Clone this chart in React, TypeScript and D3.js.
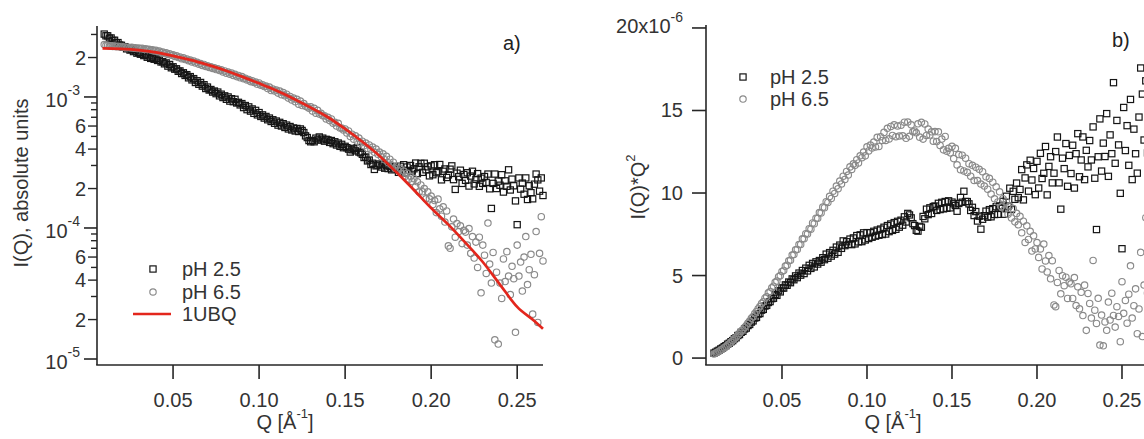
import React from 'react';
import * as d3 from 'd3';

// Q grid of the measured curves (Å^-1): first value and spacing
const qStart = 0.010;
const qStep = 0.001;

// I(Q) in units of 1e-5 (absolute units), one value per Q step, pH 2.5
const ph25 = [
  302, 293, 293, 281, 282, 270, 271, 259, 260, 249,
  248, 240, 242, 233, 237, 228, 231, 222, 225, 216,
  219, 212, 213, 207, 210, 201, 206, 197, 201, 194,
  197, 190, 191, 185, 186, 179, 182, 172, 177, 167,
  170, 163, 164, 157, 158, 151, 153, 146, 148, 140,
  143, 135, 138, 129, 133, 125, 129, 121, 124, 116,
  119, 113, 114, 109, 111, 106, 109, 102, 105, 99,
  102, 96, 100, 93, 97, 92, 96, 90, 91, 87,
  89, 83, 86, 80, 84, 78, 81, 75, 79, 73,
  76, 71, 73, 69, 71, 67, 69, 65, 67, 63,
  65.5, 61, 64, 60, 62.5, 58.5, 61, 57, 59.5, 56,
  58, 55, 57.5, 54.5, 57, 55.5, 53.5, 50.5, 49, 46.5,
  45.5, 46.5, 45.5, 48.5, 47, 49.5, 47, 48.5, 46, 47.5,
  47, 45, 46.5, 44, 45.5, 43, 44.5, 42, 43.5, 41,
  42, 41, 40, 38, 39.5, 40.5, 38.8, 41, 38, 37.5,
  36.5, 34.5, 34.8, 32.5, 33, 30.5, 31.2, 28, 29.8, 30.2,
  30.8, 29.2, 30.4, 28.6, 29.9, 28.4, 29.6, 27.8, 29.1, 28.3,
  29.3, 26.6, 29.6, 27.5, 30.4, 26.3, 29.2, 27.5, 30.0, 27.2,
  28.3, 31.3, 26.0, 29.3, 31.1, 26.6, 31.2, 27.8, 29.3, 25.0,
  29.8, 25.5, 30.4, 26.4, 26.9, 30.5, 23.3, 27.1, 28.2, 24.3,
  25.4, 28.1, 29.8, 23.4, 19.7, 26.2, 24.6, 27.6, 21.9, 25.6,
  23.1, 26.4, 20.9, 24.9, 27.1, 21.7, 23.5, 26.0, 20.8, 24.0,
  21.9, 24.7, 22.3, 25.8, 19.9, 14.1, 21.9, 25.8, 20.0, 22.8,
  21.2, 25.5, 18.8, 22.9, 20.8, 27.8, 19.5, 23.6, 21.0, 16.1,
  10.6, 24.1, 19.8, 22.0, 18.1, 24.1, 16.5, 21.0, 18.6, 16.7,
  21.6, 25.8, 23.3, 19.1, 24.1, 17.7,
];

// I(Q) in units of 1e-5, pH 6.5
const ph65 = [
  251, 248, 248, 245, 246, 243, 245, 242, 244, 241,
  243, 240, 241, 238, 240, 237, 239, 236, 237, 234,
  236, 233, 235, 231, 233, 230, 231, 228, 229, 224,
  227, 221, 224, 218, 220, 215, 217, 211, 214, 208,
  210, 204, 206, 200, 202, 196, 199, 193, 195, 189,
  191, 185, 188, 182, 184, 178, 180, 174, 177, 171,
  173, 168, 170, 165, 167, 162, 164, 159, 161, 155,
  158, 152, 155, 149, 152, 146, 149, 143, 146, 140,
  143, 138, 139, 135, 136, 131, 133, 129, 130, 125,
  128, 123, 124, 120, 121, 116, 119, 112, 115, 111,
  113, 107, 111, 104, 108, 102, 105, 98, 101, 95,
  98, 92, 96, 88, 93, 86, 89, 85, 84, 82,
  84, 78, 82, 75, 79, 74, 75, 72, 72, 68,
  70, 66, 68, 63, 64, 60, 63, 58, 58, 56,
  57, 53, 55, 50, 52, 47.5, 50.5, 46, 48.5, 44.5,
  46, 42.5, 44.5, 40.5, 43, 39.5, 41.5, 37.8, 40, 36.5,
  38, 35, 36.8, 33.2, 35.2, 31.5, 33.5, 30.2, 31.8, 28.6,
  29.8, 27.5, 28.6, 26, 27.2, 24.8, 26.2, 23.6, 24.8, 22.6,
  23.8, 20.8, 22.5, 18.8, 21.3, 18.9, 20.0, 16.7, 18.9, 16.7,
  17.5, 15.1, 16.2, 13.1, 16.6, 14.0, 12.3, 14.5, 11.1, 13.5,
  7.3, 7.0, 10.2, 11.7, 8.5, 10.8, 9.4, 10.4, 7.6, 9.6,
  9.3, 7.4, 9.9, 6.4, 8.6, 5.9, 7.8, 5.0, 8.5, 3.2,
  7.4, 6.2, 4.5, 10.9, 5.3, 3.8, 6.5, 1.4, 4.6, 1.3,
  3.8, 2.9, 5.8, 3.9, 6.6, 4.3, 3.1, 5.1, 4.1, 1.6,
  7.4, 4.3, 5.5, 3.3, 6.0, 8.6, 3.7, 4.8, 6.3, 2.2,
  4.4, 9.4, 1.9, 6.4, 12.2, 5.6,
];

// 1UBQ model curve: Q and I(Q) in units of 1e-5
const ubqQ = [0.009, 0.02, 0.03, 0.04, 0.05, 0.06, 0.07, 0.08, 0.09, 0.10, 0.11, 0.12, 0.13, 0.14,
  0.15, 0.16, 0.17, 0.18, 0.19, 0.20, 0.21, 0.22, 0.23, 0.24, 0.25, 0.26, 0.265];
const ubqI = [235, 233, 228, 219, 206, 192, 176, 160, 143, 127, 112, 97, 83, 70,
  57, 45.5, 35.5, 26.5, 19.5, 14.2, 10.6, 7.7, 5.5, 3.7, 2.5, 1.95, 1.7];

const xTicks = [0.05, 0.10, 0.15, 0.20, 0.25];
const xTickLabels = ['0.05', '0.10', '0.15', '0.20', '0.25'];
const logDecades = [1e-5, 1e-4, 1e-3];
const logDecadeExp = ['-5', '-4', '-3'];
const logMinorLabeled = [2, 4, 6];
const kratkyTicks = [0, 5, 10, 15, 20];

const FONT = '"Liberation Sans", Arial, Helvetica, sans-serif';
const AX = '#262626';
const SQ = '#151515';
const CI = '#8a8a8a';
const RED = '#e3261c';

type Pt = { q: number; i: number };

const toPts = (arr: number[]): Pt[] => arr.map((v, k) => ({ q: qStart + k * qStep, i: v * 1e-5 }));

export default function App() {
  const d25 = toPts(ph25);
  const d65 = toPts(ph65);
  const ubq = ubqQ.map((q, k) => ({ q, i: ubqI[k] * 1e-5 }));

  // left panel (log)
  const xL = d3.scaleLinear().domain([0.0058, 0.265]).range([97, 543]);
  const yL = d3.scaleLog().domain([9.0e-6, 3.42e-3]).range([365, 27]);
  // right panel (Kratky)
  const xR = d3.scaleLinear().domain([0.0053, 0.265]).range([706, 706 + 0.2597 * 1700]);
  const yR = d3.scaleLinear().domain([-0.42, 20.18]).range([365, 25]);

  const ubqLine = d3.line<Pt>().x(d => xL(d.q)).y(d => yL(d.i)).curve(d3.curveMonotoneX)(ubq) || '';

  const minorLog: { v: number; m: number }[] = [];
  logDecades.forEach(dec => {
    for (let m = 2; m <= 9; m++) {
      const v = m * dec;
      if (v <= 3.42e-3) minorLog.push({ v, m });
    }
  });

  const kr = (d: Pt) => d.i * d.q * d.q * 1e6;

  const fs = 20;

  const square = (x: number, y: number, key: string | number) => (
    <rect key={key} x={x - 3.1} y={y - 3.1} width={6.2} height={6.2} fill="none" stroke={SQ} strokeWidth={1.2} />
  );
  const circle = (x: number, y: number, key: string | number) => (
    <circle key={key} cx={x} cy={y} r={3.2} fill="none" stroke={CI} strokeWidth={1.15} />
  );

  return (
    <svg width={1144} height={439} style={{ position: 'absolute', left: 0, top: 0, background: '#fff' }}
      fontFamily={FONT}>
      <rect x={0} y={0} width={1144} height={439} fill="#fff" />
      {/* ---------- Left panel ---------- */}
      <g>
        {d25.map((d, k) => square(xL(d.q), yL(d.i), 'a' + k))}
        {d65.map((d, k) => circle(xL(d.q), yL(d.i), 'b' + k))}
        <path d={ubqLine} fill="none" stroke={RED} strokeWidth={2.7} />
        {/* axes */}
        <line x1={97} x2={97} y1={26} y2={365} stroke={AX} strokeWidth={1.6} />
        <line x1={96.2} x2={543} y1={365} y2={365} stroke={AX} strokeWidth={1.6} />
        {xTicks.map((t, k) => (
          <g key={'xl' + k}>
            <line x1={xL(t)} x2={xL(t)} y1={365} y2={379} stroke={AX} strokeWidth={1.6} />
            <text x={xL(t)} y={407} textAnchor="middle" fontSize={fs} fill="#333">{xTickLabels[k]}</text>
          </g>
        ))}
        {logDecades.map((t, k) => (
          <g key={'yd' + k}>
            <line x1={84} x2={97} y1={yL(t)} y2={yL(t)} stroke={AX} strokeWidth={1.6} />
            <text x={80} y={yL(t) + 10} textAnchor="end" fontSize={fs} fill="#333">
              <tspan>10</tspan>
              <tspan fontSize={14} dy={-12}>{logDecadeExp[k]}</tspan>
            </text>
          </g>
        ))}
        {minorLog.map((t, k) => {
          const lab = logMinorLabeled.includes(t.m);
          return (
            <g key={'ym' + k}>
              <line x1={lab ? 88 : 91} x2={97} y1={yL(t.v)} y2={yL(t.v)} stroke={AX} strokeWidth={1.4} />
              {lab && (
                <text x={86} y={yL(t.v) + 7} textAnchor="end" fontSize={fs} fill="#333">{t.m}</text>
              )}
            </g>
          );
        })}
        <text transform="translate(28,183) rotate(-90)" textAnchor="middle" fontSize={fs} fill="#333">
          I(Q), absolute units
        </text>
        <text x={285} y={429} textAnchor="middle" fontSize={fs} fill="#333">
          <tspan>Q [Å</tspan>
          <tspan fontSize={13} dy={-11}>-1</tspan>
          <tspan dy={11}>]</tspan>
        </text>
        <text x={503} y={50} fontSize={fs} fill="#222">a)</text>
        {/* legend */}
        {square(153, 269, 'lg1')}
        <text x={182} y={276} fontSize={fs} fill="#333">pH 2.5</text>
        {circle(153, 292, 'lg2')}
        <text x={182} y={299} fontSize={fs} fill="#333">pH 6.5</text>
        <line x1={133} x2={171} y1={314} y2={314} stroke={RED} strokeWidth={2.7} />
        <text x={182} y={321} fontSize={fs} fill="#333">1UBQ</text>
      </g>

      {/* ---------- Right panel ---------- */}
      <g>
        {d25.map((d, k) => square(xR(d.q), yR(kr(d)), 'c' + k))}
        {d65.map((d, k) => circle(xR(d.q), yR(kr(d)), 'd' + k))}
        <line x1={706} x2={706} y1={25} y2={365} stroke={AX} strokeWidth={1.6} />
        <line x1={705.2} x2={1148} y1={365} y2={365} stroke={AX} strokeWidth={1.6} />
        {xTicks.map((t, k) => (
          <g key={'xr' + k}>
            <line x1={xR(t)} x2={xR(t)} y1={365} y2={379} stroke={AX} strokeWidth={1.6} />
            <text x={xR(t)} y={407} textAnchor="middle" fontSize={fs} fill="#333">{xTickLabels[k]}</text>
          </g>
        ))}
        {kratkyTicks.map((t, k) => (
          <g key={'yr' + k}>
            <line x1={692} x2={706} y1={yR(t)} y2={yR(t)} stroke={AX} strokeWidth={1.6} />
            {t === 20 ? (
              <text x={683} y={yR(t) + 5} textAnchor="end" fontSize={fs} fill="#333">
                <tspan>20x10</tspan>
                <tspan fontSize={14} dy={-11}>-6</tspan>
              </text>
            ) : (
              <text x={683} y={yR(t) + 7} textAnchor="end" fontSize={fs} fill="#333">{t}</text>
            )}
          </g>
        ))}
        <text transform="translate(645,187) rotate(-90)" textAnchor="middle" fontSize={fs} fill="#333">
          <tspan>I(Q)*Q</tspan>
          <tspan fontSize={13} dy={-10}>2</tspan>
        </text>
        <text x={893} y={429} textAnchor="middle" fontSize={fs} fill="#333">
          <tspan>Q [Å</tspan>
          <tspan fontSize={13} dy={-11}>-1</tspan>
          <tspan dy={11}>]</tspan>
        </text>
        <text x={1112} y={47} fontSize={fs} fill="#222">b)</text>
        {square(743, 77, 'lg3')}
        <text x={770} y={84} fontSize={fs} fill="#333">pH 2.5</text>
        {circle(743, 99, 'lg4')}
        <text x={770} y={106} fontSize={fs} fill="#333">pH 6.5</text>
      </g>
    </svg>
  );
}
